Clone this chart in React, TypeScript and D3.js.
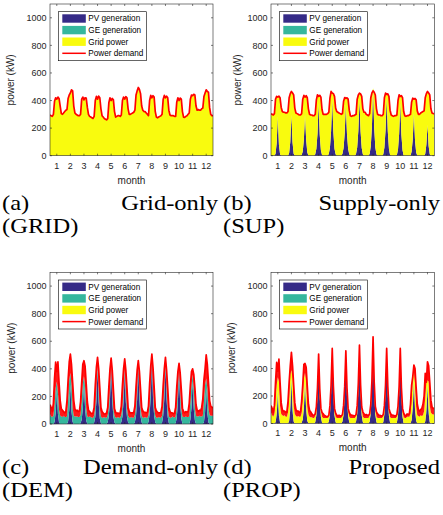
import React, { useEffect, useRef } from 'react';
import * as d3 from 'd3';

// one representative day per month, sampled every 2 hours
const months = [1, 2, 3, 4, 5, 6, 7, 8, 9, 10, 11, 12];
const hours = [0, 2, 4, 6, 8, 10, 12, 14, 16, 18, 20, 22];
const yTicks = [0, 200, 400, 600, 800, 1000];
const legendLabels = ['PV generation', 'GE generation', 'Grid power', 'Power demand'];

// (a) grid-only: demand is served by the grid
const demandA = [
  [295, 290, 285, 300, 395, 420, 410, 425, 415, 360, 305, 300],
  [310, 320, 330, 335, 415, 440, 455, 478, 470, 360, 310, 300],
  [295, 290, 290, 300, 410, 425, 405, 420, 418, 350, 300, 285],
  [280, 275, 270, 285, 400, 430, 410, 432, 420, 340, 290, 280],
  [270, 265, 260, 270, 385, 420, 400, 415, 405, 320, 280, 285],
  [290, 290, 285, 295, 400, 425, 410, 428, 420, 340, 300, 300],
  [305, 310, 315, 330, 440, 470, 495, 480, 450, 360, 330, 320],
  [320, 310, 300, 290, 400, 437, 420, 435, 425, 320, 280, 275],
  [280, 285, 290, 300, 410, 437, 420, 432, 420, 330, 295, 290],
  [290, 290, 285, 285, 390, 420, 400, 418, 410, 320, 280, 278],
  [285, 290, 300, 310, 410, 440, 435, 445, 440, 360, 330, 335],
  [330, 330, 340, 345, 430, 455, 478, 465, 460, 350, 300, 290],
];

// (b) supply-only
const demandB = [
  [305, 300, 295, 305, 410, 430, 425, 432, 420, 350, 320, 315],
  [315, 310, 310, 320, 420, 450, 466, 455, 440, 345, 310, 305],
  [300, 295, 295, 305, 410, 437, 425, 435, 420, 340, 300, 295],
  [295, 290, 290, 300, 405, 442, 430, 438, 425, 335, 300, 300],
  [300, 300, 305, 315, 420, 466, 455, 450, 430, 345, 320, 315],
  [310, 305, 300, 305, 395, 422, 415, 420, 410, 330, 290, 285],
  [290, 290, 295, 300, 410, 440, 454, 448, 430, 340, 315, 315],
  [300, 295, 290, 305, 420, 455, 470, 460, 440, 340, 300, 295],
  [295, 290, 290, 300, 420, 454, 445, 448, 430, 330, 295, 290],
  [285, 290, 290, 295, 400, 442, 430, 435, 420, 320, 290, 285],
  [290, 290, 295, 300, 390, 417, 410, 415, 405, 325, 300, 300],
  [310, 315, 320, 325, 420, 450, 466, 455, 440, 340, 310, 305],
];
const pvB = [
  [0, 0, 0, 0, 15, 90, 284, 80, 10, 0, 0, 0],
  [0, 0, 0, 0, 20, 100, 296, 95, 15, 0, 0, 0],
  [0, 0, 0, 5, 30, 120, 296, 115, 25, 0, 0, 0],
  [0, 0, 0, 10, 50, 160, 381, 150, 40, 5, 0, 0],
  [0, 0, 0, 15, 60, 180, 405, 170, 50, 10, 0, 0],
  [0, 0, 0, 15, 55, 165, 369, 160, 50, 10, 0, 0],
  [0, 0, 0, 15, 60, 180, 405, 175, 55, 10, 0, 0],
  [0, 0, 0, 15, 70, 210, 490, 200, 60, 10, 0, 0],
  [0, 0, 0, 10, 60, 185, 417, 175, 50, 5, 0, 0],
  [0, 0, 0, 5, 45, 160, 381, 150, 40, 0, 0, 0],
  [0, 0, 0, 0, 30, 120, 308, 110, 25, 0, 0, 0],
  [0, 0, 0, 0, 15, 80, 223, 70, 10, 0, 0, 0],
];

// (c) demand-only
const demandC = [
  [140, 120, 90, 150, 330, 449, 380, 450, 300, 170, 110, 100],
  [90, 80, 90, 170, 320, 450, 507, 430, 300, 170, 110, 95],
  [100, 90, 95, 160, 300, 434, 459, 420, 290, 160, 100, 90],
  [80, 75, 80, 120, 280, 410, 483, 400, 260, 120, 90, 80],
  [70, 75, 80, 120, 270, 400, 478, 390, 250, 110, 85, 75],
  [80, 75, 80, 130, 280, 400, 473, 390, 260, 120, 90, 80],
  [80, 80, 85, 130, 270, 390, 459, 380, 250, 120, 95, 85],
  [85, 80, 85, 130, 290, 420, 507, 410, 270, 120, 95, 85],
  [80, 80, 85, 130, 280, 400, 483, 390, 260, 120, 90, 80],
  [80, 75, 80, 120, 270, 380, 439, 370, 250, 115, 90, 80],
  [90, 85, 90, 150, 280, 380, 400, 360, 260, 140, 100, 90],
  [100, 95, 120, 180, 320, 400, 502, 430, 300, 170, 130, 120],
];
const pvC = [
  [0, 0, 0, 0, 15, 80, 248, 75, 10, 0, 0, 0],
  [0, 0, 0, 0, 20, 100, 284, 90, 15, 0, 0, 0],
  [0, 0, 0, 5, 30, 115, 296, 110, 25, 0, 0, 0],
  [0, 0, 0, 10, 50, 165, 405, 155, 40, 5, 0, 0],
  [0, 0, 0, 15, 60, 180, 417, 170, 50, 10, 0, 0],
  [0, 0, 0, 15, 55, 165, 369, 160, 50, 10, 0, 0],
  [0, 0, 0, 15, 60, 180, 417, 175, 55, 10, 0, 0],
  [0, 0, 0, 15, 70, 200, 466, 190, 60, 10, 0, 0],
  [0, 0, 0, 10, 60, 185, 417, 175, 50, 5, 0, 0],
  [0, 0, 0, 5, 45, 160, 381, 150, 40, 0, 0, 0],
  [0, 0, 0, 0, 30, 120, 308, 110, 25, 0, 0, 0],
  [0, 0, 0, 0, 15, 85, 260, 80, 10, 0, 0, 0],
];
const geC = [
  [70, 55, 50, 60, 120, 180, 60, 150, 90, 60, 55, 50],
  [60, 50, 50, 55, 150, 220, 85, 200, 100, 60, 55, 55],
  [55, 50, 50, 60, 140, 180, 50, 160, 90, 55, 50, 55],
  [50, 45, 45, 50, 80, 90, 20, 90, 70, 50, 45, 45],
  [50, 45, 45, 50, 70, 80, 20, 80, 60, 50, 45, 45],
  [50, 45, 45, 50, 75, 90, 30, 85, 65, 50, 45, 45],
  [50, 45, 45, 50, 70, 80, 20, 80, 60, 50, 45, 45],
  [50, 45, 45, 50, 70, 80, 20, 80, 60, 50, 45, 45],
  [50, 45, 45, 50, 75, 85, 25, 85, 65, 50, 45, 45],
  [55, 50, 45, 50, 80, 95, 30, 90, 70, 55, 50, 50],
  [55, 50, 50, 55, 130, 170, 50, 150, 90, 60, 55, 55],
  [60, 55, 55, 60, 150, 200, 70, 180, 100, 65, 60, 60],
];

// (d) proposed
const demandD = [
  [130, 110, 80, 130, 300, 444, 380, 468, 300, 150, 100, 90],
  [90, 80, 85, 160, 300, 420, 517, 420, 280, 150, 100, 90],
  [90, 80, 85, 160, 280, 430, 437, 410, 270, 140, 95, 85],
  [70, 60, 60, 70, 120, 260, 505, 250, 110, 80, 70, 60],
  [55, 50, 50, 60, 130, 280, 546, 270, 110, 75, 60, 55],
  [60, 55, 55, 65, 130, 270, 529, 260, 110, 80, 65, 60],
  [60, 55, 55, 65, 130, 290, 570, 280, 120, 85, 70, 60],
  [65, 60, 60, 70, 140, 310, 631, 300, 125, 85, 70, 60],
  [60, 55, 55, 65, 130, 280, 546, 270, 110, 80, 65, 60],
  [60, 55, 55, 65, 125, 270, 546, 260, 110, 75, 60, 55],
  [70, 65, 70, 140, 280, 340, 425, 400, 260, 140, 100, 90],
  [100, 110, 140, 200, 364, 300, 449, 420, 300, 170, 120, 110],
];
const pvD = [
  [0, 0, 0, 0, 10, 60, 206, 55, 5, 0, 0, 0],
  [0, 0, 0, 0, 20, 100, 303, 90, 15, 0, 0, 0],
  [0, 0, 0, 5, 30, 110, 280, 100, 20, 0, 0, 0],
  [0, 0, 0, 10, 60, 200, 490, 190, 50, 5, 0, 0],
  [0, 0, 0, 15, 70, 220, 540, 210, 60, 10, 0, 0],
  [0, 0, 0, 15, 65, 210, 520, 200, 55, 10, 0, 0],
  [0, 0, 0, 15, 70, 230, 560, 220, 60, 10, 0, 0],
  [0, 0, 0, 15, 80, 250, 620, 240, 65, 10, 0, 0],
  [0, 0, 0, 10, 70, 220, 540, 210, 55, 5, 0, 0],
  [0, 0, 0, 5, 60, 210, 540, 200, 50, 0, 0, 0],
  [0, 0, 0, 0, 25, 110, 290, 100, 20, 0, 0, 0],
  [0, 0, 0, 0, 15, 80, 255, 75, 10, 0, 0, 0],
];
const geD = [
  [0, 0, 0, 0, 0, 20, 40, 20, 0, 0, 0, 0],
  [0, 0, 0, 0, 0, 30, 30, 40, 0, 0, 0, 0],
  [0, 0, 0, 0, 0, 20, 30, 20, 0, 0, 0, 0],
  [0, 0, 0, 0, 0, 0, 0, 0, 0, 0, 0, 0],
  [0, 0, 0, 0, 0, 0, 0, 0, 0, 0, 0, 0],
  [0, 0, 0, 0, 0, 0, 0, 0, 0, 0, 0, 0],
  [0, 0, 0, 0, 0, 0, 0, 0, 0, 0, 0, 0],
  [0, 0, 0, 0, 0, 0, 0, 0, 0, 0, 0, 0],
  [0, 0, 0, 0, 0, 0, 0, 0, 0, 0, 0, 0],
  [0, 0, 0, 0, 0, 0, 0, 0, 0, 0, 0, 0],
  [0, 0, 0, 0, 0, 20, 40, 20, 0, 0, 0, 0],
  [0, 0, 0, 0, 0, 30, 40, 30, 0, 0, 0, 0],
];
const gridD = [
  [80, 60, 50, 70, 150, 200, 90, 230, 120, 70, 60, 55],
  [60, 50, 50, 80, 150, 230, 55, 200, 110, 70, 55, 50],
  [55, 50, 50, 70, 140, 200, 60, 180, 100, 65, 50, 45],
  [45, 40, 40, 45, 60, 60, 0, 60, 50, 45, 40, 40],
  [40, 40, 40, 45, 55, 50, 0, 50, 45, 40, 40, 40],
  [40, 40, 40, 45, 55, 50, 0, 50, 45, 40, 40, 40],
  [40, 40, 40, 45, 55, 50, 0, 50, 45, 40, 40, 40],
  [40, 40, 40, 45, 55, 50, 0, 50, 45, 40, 40, 40],
  [40, 40, 40, 45, 55, 50, 0, 50, 45, 40, 40, 40],
  [40, 40, 40, 45, 55, 55, 0, 55, 45, 45, 40, 40],
  [50, 50, 50, 70, 140, 200, 50, 170, 100, 60, 55, 50],
  [60, 55, 60, 90, 170, 230, 20, 200, 120, 80, 70, 65],
];

const colors = { pv: '#352A87', ge: '#35B79D', grid: '#F9FB0E', demand: '#FF0000' };
const axisColor = '#262626';
const sans = '"Liberation Sans", Arial, sans-serif';
const serif = '"Liberation Serif", "Times New Roman", serif';

const zeros = months.map(() => hours.map(() => 0));

const panels = [
  {
    demand: demandA, pv: zeros, ge: zeros, grid: demandA,
    box: { x0: 50, x1: 213, y0: 4, y1: 155.7 }, ylabelOff: 40,
    caption: ['(a)', 'Grid-only', '(GRID)'], capX: [2, 218], capY: 210,
  },
  {
    demand: demandB, pv: pvB, ge: zeros,
    grid: demandB.map((row, i) => row.map((d, j) => Math.max(0, d - pvB[i][j]))),
    box: { x0: 271, x1: 434.3, y0: 4, y1: 155.7 }, ylabelOff: 34,
    caption: ['(b)', 'Supply-only', '(SUP)'], capX: [223, 440], capY: 210,
  },
  {
    demand: demandC, pv: pvC, ge: geC, grid: zeros,
    box: { x0: 50, x1: 213, y0: 272.3, y1: 424 }, ylabelOff: 39,
    caption: ['(c)', 'Demand-only', '(DEM)'], capX: [2, 218], capY: 474,
  },
  {
    demand: demandD, pv: pvD, ge: geD, grid: gridD,
    box: { x0: 271, x1: 434.3, y0: 272.3, y1: 423.5 }, ylabelOff: 40,
    caption: ['(d)', 'Proposed', '(PROP)'], capX: [223, 440], capY: 474,
  },
];

const toPoints = (p) => {
  const pts = [];
  months.forEach((m, i) => {
    hours.forEach((h, j) => {
      pts.push({ x: m - 0.5 + h / 24, pv: p.pv[i][j], ge: p.ge[i][j], grid: p.grid[i][j], demand: p.demand[i][j] });
    });
  });
  const last = pts[pts.length - 1];
  pts.push({ ...last, x: 12.5 });
  return pts;
};

const App = () => {
  const svgRef = useRef();

  useEffect(() => {
    const svg = d3.select(svgRef.current);
    svg.selectAll('*').remove();

    panels.forEach((p, pi) => {
      const { x0, x1, y0, y1 } = p.box;
      const x = d3.scaleLinear().domain([0.5, 12.5]).range([x0, x1]);
      const y = d3.scaleLinear().domain([0, 1100]).range([y1, y0]);
      const pts = toPoints(p);
      const g = svg.append('g');

      g.append('clipPath').attr('id', `clip${pi}`)
        .append('rect').attr('x', x0).attr('y', y0).attr('width', x1 - x0).attr('height', y1 - y0);

      const stack = d3.stack().keys(['pv', 'ge', 'grid'])(pts);
      const area = d3.area()
        .x((d) => x(d.data.x))
        .y0((d) => y(d[0]))
        .y1((d) => y(d[1]));
      const plot = g.append('g').attr('clip-path', `url(#clip${pi})`);
      plot.selectAll('path.layer')
        .data(stack)
        .enter()
        .append('path')
        .attr('class', 'layer')
        .attr('d', area)
        .attr('fill', (d) => colors[d.key]);

      // the fast-swinging hourly demand reads as a solid red band above the supply
      const supply = (d) => d.pv + d.ge + d.grid;
      const band = d3.area()
        .x((d) => x(d.x))
        .y0((d) => y(Math.min(supply(d), d.demand)))
        .y1((d) => y(d.demand));
      plot.append('path')
        .attr('d', band(pts))
        .attr('fill', colors.demand)
        .attr('fill-opacity', 0.9);

      const line = d3.line().x((d) => x(d.x)).y((d) => y(d.demand));
      plot.append('path')
        .attr('d', line(pts))
        .attr('fill', 'none')
        .attr('stroke', colors.demand)
        .attr('stroke-width', 1.7)
        .attr('stroke-linejoin', 'round');

      // box with inward ticks on all sides
      g.append('rect')
        .attr('x', x0).attr('y', y0).attr('width', x1 - x0).attr('height', y1 - y0)
        .attr('fill', 'none').attr('stroke', axisColor).attr('stroke-width', 0.6);

      const tl = 2;
      months.forEach((m) => {
        g.append('line').attr('x1', x(m)).attr('x2', x(m)).attr('y1', y1).attr('y2', y1 - tl).attr('stroke', axisColor).attr('stroke-width', 0.6);
        g.append('line').attr('x1', x(m)).attr('x2', x(m)).attr('y1', y0).attr('y2', y0 + tl).attr('stroke', axisColor).attr('stroke-width', 0.6);
        g.append('text').attr('x', x(m)).attr('y', y1 + 12.8)
          .attr('text-anchor', 'middle').attr('font-family', sans).attr('font-size', 9).attr('fill', axisColor)
          .text(m);
      });
      yTicks.forEach((t) => {
        g.append('line').attr('x1', x0).attr('x2', x0 + tl).attr('y1', y(t)).attr('y2', y(t)).attr('stroke', axisColor).attr('stroke-width', 0.6);
        g.append('line').attr('x1', x1).attr('x2', x1 - tl).attr('y1', y(t)).attr('y2', y(t)).attr('stroke', axisColor).attr('stroke-width', 0.6);
        g.append('text').attr('x', x0 - 3.5).attr('y', y(t) + 3.2)
          .attr('text-anchor', 'end').attr('font-family', sans).attr('font-size', 9).attr('fill', axisColor)
          .text(t);
      });

      g.append('text')
        .attr('x', (x0 + x1) / 2).attr('y', y1 + 27.8)
        .attr('text-anchor', 'middle').attr('font-family', sans).attr('font-size', 10).attr('fill', axisColor)
        .text('month');
      g.append('text')
        .attr('transform', `translate(${x0 - p.ylabelOff + 3.5},${(y0 + y1) / 2}) rotate(-90)`)
        .attr('text-anchor', 'middle').attr('font-family', sans).attr('font-size', 10).attr('fill', axisColor)
        .text('power (kW)');

      // legend
      const lx = x0 + 8.5;
      const ly = y0 + 7.7;
      const leg = g.append('g').attr('transform', `translate(${lx},${ly})`);
      leg.append('rect').attr('width', 88).attr('height', 49)
        .attr('fill', '#fff').attr('stroke', '#000').attr('stroke-width', 0.6);
      const swatch = [colors.pv, colors.ge, colors.grid];
      legendLabels.forEach((lab, i) => {
        const cy = 6.8 + i * 11.6;
        if (i < 3) {
          leg.append('rect').attr('x', 3.8).attr('y', cy - 4.2).attr('width', 23.5).attr('height', 8.4).attr('fill', swatch[i]);
        } else {
          leg.append('line').attr('x1', 3.8).attr('x2', 27.3).attr('y1', cy).attr('y2', cy)
            .attr('stroke', colors.demand).attr('stroke-width', 1.5);
        }
        leg.append('text').attr('x', 29.8).attr('y', cy + 2.9)
          .attr('font-family', sans).attr('font-size', 8.2).attr('fill', '#000')
          .text(lab);
      });

      // caption: justified first line, wide roman face
      const cap = svg.append('g').attr('font-family', serif).attr('font-size', 21).attr('fill', '#000');
      const capText = (tx, ty, s, anchor) => {
        cap.append('text')
          .attr('transform', `translate(${tx},${ty}) scale(1.17,1)`)
          .attr('text-anchor', anchor)
          .text(s);
      };
      capText(p.capX[0], p.capY, p.caption[0], 'start');
      capText(p.capX[1], p.capY, p.caption[1], 'end');
      capText(p.capX[0], p.capY + 23, p.caption[2], 'start');
    });
  }, []);

  return (
    <svg
      ref={svgRef}
      width={443}
      height={515}
      style={{ position: 'absolute', left: 0, top: 0, background: '#fff' }}
    />
  );
};

export default App;
